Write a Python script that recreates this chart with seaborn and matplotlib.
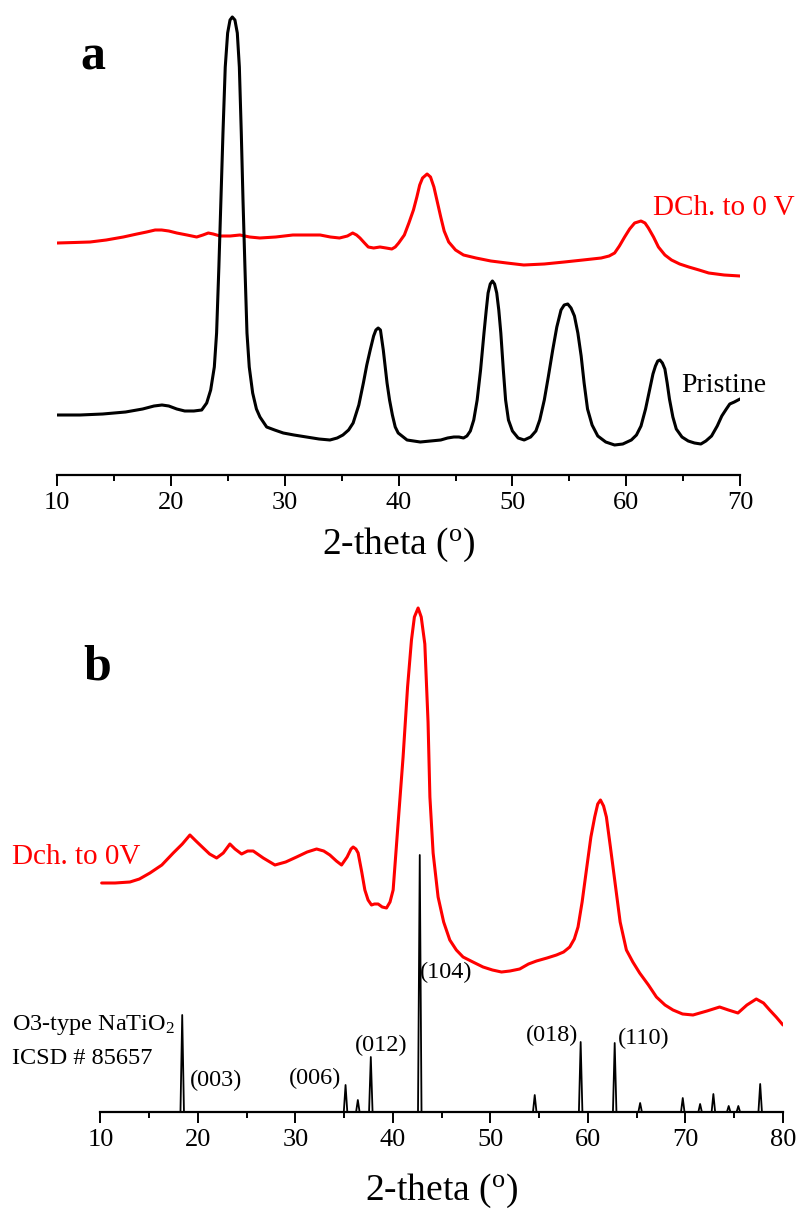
import numpy as np
import pandas as pd
import matplotlib
matplotlib.use("Agg")
import matplotlib.pyplot as plt
from matplotlib.ticker import MultipleLocator
import seaborn as sns

# ---------------- data (a) ----------------
a_pristine_theta = [10, 12, 14, 16, 17.5, 18.5, 19.2, 19.8, 20.5, 21.2, 22.0, 22.69, 23.13, 23.48, 23.8, 24.0,
                    24.2, 24.38, 24.56, 24.76, 24.97, 25.18, 25.38, 25.61, 25.82, 26.0, 26.17, 26.32, 26.49,
                    26.67, 26.87, 27.17, 27.5, 27.81, 28.4, 29.1, 29.86, 30.8, 31.9, 33.0, 33.96, 34.6, 35.1,
                    35.6, 36.0, 36.5, 36.9, 37.2, 37.5, 37.8, 38.0, 38.2, 38.4, 38.65, 38.98, 39.2, 39.45,
                    39.7, 39.96, 40.74, 41.3, 41.9, 42.8, 43.7, 44.3, 44.85, 45.3, 45.7, 46.0, 46.3, 46.6,
                    46.9, 47.2, 47.5, 47.7, 47.86, 48.05, 48.24, 48.43, 48.62, 48.8, 48.98, 49.2, 49.4,
                    49.65, 50.0, 50.5, 51.03, 51.6, 52.06, 52.4, 52.8, 53.15, 53.54, 53.9, 54.27, 54.55,
                    54.86, 55.15, 55.45, 55.75, 56.04, 56.3, 56.6, 57.0, 57.5, 58.2, 58.98, 59.7, 60.45,
                    60.9, 61.3, 61.7, 62.07, 62.35, 62.57, 62.77, 62.96, 63.18, 63.4, 63.6, 63.8, 64.1,
                    64.4, 64.9, 65.45, 66.0, 66.56, 67.0, 67.5, 68.0, 68.4, 68.8, 69.1, 69.5, 70.0]
a_pristine_int = [60, 60, 61, 63, 66, 69, 70, 69, 66, 64, 64, 65, 72, 85, 108, 142,
                  208, 275, 342, 408, 442, 455, 458, 455, 442, 408, 342, 275, 208,
                  142, 108, 82, 66, 58, 48, 45, 42, 40, 38, 36, 35, 37, 40,
                  45, 52, 70, 92, 110, 125, 139, 145, 147, 145, 125, 92, 75, 60,
                  48, 42, 35, 34, 33, 34, 35, 37, 38, 38, 37, 39, 44, 55,
                  75, 105, 142, 165, 182, 191, 194, 191, 182, 165, 142, 105, 75,
                  55, 44, 37, 35, 38, 44, 55, 75, 98, 125, 148, 165, 170,
                  171, 167, 159, 142, 119, 92, 66, 50, 39, 33, 30, 31, 35,
                  40, 49, 66, 86, 101, 109, 114, 115, 112, 106, 92, 76, 58,
                  46, 38, 34, 32, 31, 34, 39, 49, 59, 66, 71, 73, 76]

a_dch_theta = [10, 11.5, 12.88, 14.3, 15.8, 17.0, 17.85, 18.6, 19.17, 19.8, 20.5, 21.4, 22.25, 22.8, 23.27,
               23.7, 24.3, 25.2, 26.05, 26.9, 27.8, 29.2, 30.7, 32.0, 33.1, 34.0, 34.8, 35.5, 35.96, 36.3,
               36.6, 37.0, 37.33, 37.8, 38.36, 38.9, 39.4, 39.7, 40.0, 40.5, 40.9, 41.3, 41.6, 41.85,
               42.1, 42.5, 42.8, 43.1, 43.4, 43.7, 44.0, 44.4, 45.0, 45.7, 46.8, 48.1, 49.5, 51.0,
               52.8, 54.56, 56.2, 57.8, 58.5, 58.98, 59.4, 59.86, 60.3, 60.74, 61.3, 61.65, 61.95,
               62.4, 62.83, 63.4, 63.98, 64.7, 65.5, 66.4, 67.25, 68.6, 70.0]
a_dch_int = [232, 232.5, 233, 235, 238, 241, 243, 245, 245, 244, 242, 240, 238, 240, 242,
             241, 239, 239, 240, 238, 237, 238, 240, 240, 240, 238, 237, 239, 242, 240,
             237, 232, 228, 227, 228, 227, 226, 228, 232, 240, 252, 265, 278, 290,
             297, 301, 298, 288, 273, 258, 244, 233, 225, 220, 217, 214, 212, 210,
             211, 213, 215, 217, 219, 222, 229, 238, 246, 252, 254, 252, 247,
             238, 228, 220, 215, 211, 208, 205, 202, 200, 199]

# ---------------- data (b) ----------------
b_dch_theta = [10.13, 11.5, 13.03, 14.0, 15.08, 16.3, 17.47, 18.4, 19.18, 19.8, 20.55, 21.2, 21.92, 22.6,
               23.28, 23.8, 24.48, 25.1, 25.67, 26.7, 27.9, 29.0, 30.12, 31.2, 32.17, 32.9, 33.53, 34.2,
               34.73, 35.3, 35.7, 35.92, 36.2, 36.43, 36.8, 37.12, 37.45, 37.8, 38.1, 38.48, 38.9, 39.34,
               39.7, 40.02, 40.5, 41.04, 41.5, 41.9, 42.2, 42.58, 42.9, 43.27, 43.6, 43.79, 44.12,
               44.63, 45.2, 45.83, 46.5, 47.19, 48.2, 49.24, 50.2, 51.13, 52.0, 53.0, 53.9, 54.72,
               55.8, 56.77, 57.5, 58.13, 58.6, 58.98, 59.4, 59.84, 60.3, 60.69, 61.0, 61.28, 61.6,
               61.89, 62.3, 62.74, 63.3, 63.94, 64.6, 65.3, 66.2, 67.02, 67.9, 68.72, 69.7, 70.77,
               72.2, 73.5, 74.4, 75.38, 76.3, 77.26, 78.0, 78.63, 79.3, 80.0]
b_dch_int = [229, 229, 230, 233, 239, 247, 259, 268, 277, 271, 264, 258, 254, 259,
             268, 263, 258, 261, 261, 254, 247, 250, 255, 260, 263, 261, 257, 251,
             247, 255, 263, 265, 263, 259, 240, 222, 212, 207, 208, 208, 205, 204,
             210, 222, 285, 355, 425, 472, 495, 504, 495, 468, 390, 315, 259,
             215, 190, 172, 162, 155, 150, 145, 142, 140, 141, 143, 148, 151,
             154, 157, 160, 165, 173, 185, 210, 242, 275, 295, 308, 312, 306,
             295, 265, 232, 190, 162, 150, 139, 127, 115, 107, 102, 98, 97,
             101, 105, 102, 99, 107, 113, 109, 102, 95, 87]

ref_pos = [18.39, 35.14, 36.4, 37.73, 42.75, 54.54, 59.25, 62.74, 65.35, 69.72, 71.5, 72.86, 74.43, 75.42, 77.66]
ref_int = [97, 27, 12, 55, 257, 17, 70, 69, 9, 14, 8, 18, 6, 6, 28]

hkl_labels = ["(003)", "(006)", "(012)", "(104)", "(018)", "(110)"]
hkl_theta = [19.18, 29.33, 36.1, 42.76, 53.63, 63.08]
hkl_int = [32, 34, 67, 140, 77, 74]

# ---------------- style ----------------
sns.set_style("white")
plt.rcParams['font.family'] = ['Liberation Serif', 'DejaVu Serif']
plt.rcParams['mathtext.fontset'] = 'custom'
plt.rcParams['mathtext.rm'] = 'Liberation Serif'
plt.rcParams['mathtext.it'] = 'Liberation Serif:italic'
plt.rcParams['mathtext.bf'] = 'Liberation Serif:bold'
plt.rcParams['text.color'] = 'black'
plt.rcParams['axes.labelcolor'] = 'black'
plt.rcParams['xtick.color'] = 'black'
plt.rcParams['xtick.labelcolor'] = 'black'

W, H = 799, 1214
fig = plt.figure(figsize=(W / 100, H / 100), dpi=100)
fig.patch.set_facecolor("white")

ax1 = fig.add_axes([57.3 / W, (H - 475) / H, (740 - 57.3) / W, 465 / H])
ax2 = fig.add_axes([100.4 / W, (H - 1112) / H, (783 - 100.4) / W, 512 / H])

RED = "#ff0000"

# panel a
sns.lineplot(x=a_dch_theta, y=a_dch_int, ax=ax1, color=RED, lw=2.2, sort=False, estimator=None)
sns.lineplot(x=a_pristine_theta, y=a_pristine_int, ax=ax1, color="black", lw=2.2, sort=False, estimator=None)
ax1.set_xlim(10, 70)
ax1.set_ylim(0, 465)

# panel b
sns.lineplot(x=b_dch_theta, y=b_dch_int, ax=ax2, color=RED, lw=2.2, sort=False, estimator=None)
half = 0.18
stick_x, stick_y = [], []
for p, h in zip(ref_pos, ref_int):
    stick_x += [p - half, p, p + half, np.nan]
    stick_y += [0, h, 0, np.nan]
ax2.plot(stick_x, stick_y, color="black", lw=1.3)
ax2.set_xlim(10, 80)
ax2.set_ylim(0, 512)

for ax in (ax1, ax2):
    for s in ("left", "right", "top"):
        ax.spines[s].set_visible(False)
    ax.spines["bottom"].set_linewidth(1.6)
    ax.spines["bottom"].set_color("black")
    ax.set_yticks([])
    ax.xaxis.set_major_locator(MultipleLocator(10))
    ax.xaxis.set_minor_locator(MultipleLocator(5))
    ax.tick_params(axis="x", which="major", direction="out", length=8, width=1.4,
                   labelsize=19, pad=4, color="black", labelcolor="black", bottom=True)
    ax.tick_params(axis="x", which="minor", direction="out", length=4.5, width=1.4,
                   color="black", bottom=True)
    ax.set_ylabel("")
    ax.patch.set_alpha(0)

ax1.set_xlabel("2-theta ($^\\mathregular{o}$)", fontsize=27, labelpad=9, color="black")
ax2.set_xlabel("2-theta ($^\\mathregular{o}$)", fontsize=27, labelpad=15, color="black")

# annotations panel a
ax1.text(12.0, 418, "a", fontsize=36, fontweight="bold", va="center", ha="left")
ax1.text(62.35, 267, "DCh. to 0 V", fontsize=21, color=RED, va="center", ha="left")
ax1.text(64.87, 90, "Pristine", fontsize=20, color="black", va="center", ha="left")

# annotations panel b
ax2.text(8.2, 445, "b", fontsize=36, fontweight="bold", va="center", ha="left")
ax2.text(0.94, 255, "Dch. to 0V", fontsize=21, color=RED, va="center", ha="left")
ax2.text(0.91, 87, "O3-type NaTiO$_\\mathregular{2}$", fontsize=17.5, va="center", ha="left")
ax2.text(0.91, 54, "ICSD # 85657", fontsize=17.5, va="center", ha="left")
for lab, t, h in zip(hkl_labels, hkl_theta, hkl_int):
    ax2.text(t, h, lab, fontsize=17.5, va="center", ha="left")

fig.savefig("out.png", dpi=100, facecolor="white")
